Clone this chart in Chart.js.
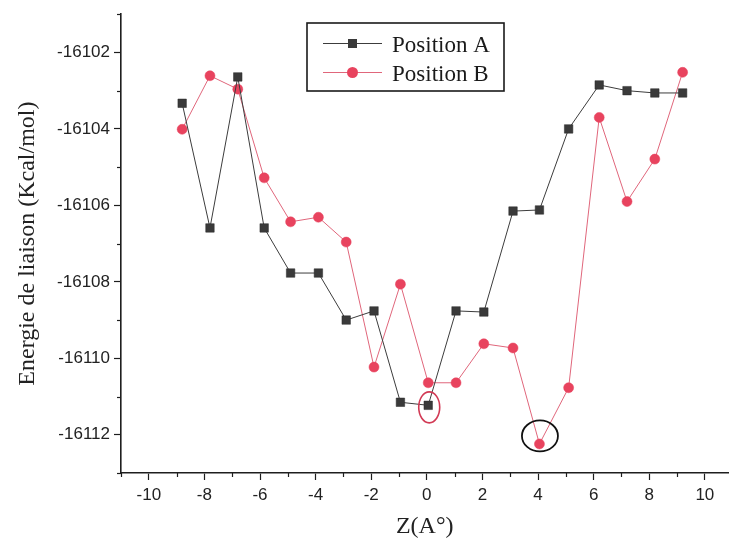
<!DOCTYPE html>
<html>
<head>
<meta charset="utf-8">
<script src="https://cdn.jsdelivr.net/npm/chart.js@4/dist/chart.umd.min.js"></script>
<style>
html,body{margin:0;padding:0;background:#fff;}
canvas{display:block;}
</style>
</head>
<body>
<canvas id="c" width="735" height="546"></canvas>
<script>
// ---- data ----
const zValues = [-8.8, -7.8, -6.8, -5.85, -4.9, -3.9, -2.9, -1.9, -0.95, 0.05, 1.05, 2.05, 3.1, 4.05, 5.1, 6.2, 7.2, 8.2, 9.2];
const positionA = [-16103.33, -16106.59, -16102.64, -16106.59, -16107.77, -16107.77, -16109.00, -16108.76, -16111.15, -16111.23, -16108.76, -16108.79, -16106.15, -16106.12, -16104.00, -16102.85, -16103.00, -16103.06, -16103.06];
const positionB = [-16104.01, -16102.61, -16102.96, -16105.28, -16106.43, -16106.31, -16106.96, -16110.23, -16108.06, -16110.64, -16110.64, -16109.62, -16109.73, -16112.24, -16110.77, -16103.70, -16105.90, -16104.79, -16102.52];
const seriesLabels = ['Position A', 'Position B'];
const xTickValues = [-10, -8, -6, -4, -2, 0, 2, 4, 6, 8, 10];
const yTickValues = [-16112, -16110, -16108, -16106, -16104, -16102];
const xTitle = 'Z(A\u00b0)';
const yTitle = 'Energie de liaison (Kcal/mol)';
// highlighted points (series index, point index)
const highlightA = 9;
const highlightB = 13;

const toXY = (vals) => vals.map((v, i) => ({x: zValues[i], y: v}));

const AXIS = '#1e1e1e';
const SANS = '"Liberation Sans", Arial, sans-serif';
const SERIF = '"Liberation Serif", "Times New Roman", serif';

const minorTicks = {
  id: 'minorTicks',
  afterDraw(chart) {
    const ctx = chart.ctx;
    const xs = chart.scales.x, ys = chart.scales.y;
    ctx.save();
    ctx.strokeStyle = AXIS;
    ctx.lineWidth = 1.2;
    for (let v = Math.ceil(xs.min); v <= xs.max; v++) {
      if (Math.abs(v) % 2 === 1) {
        const px = Math.round(xs.getPixelForValue(v)) + 0.5;
        ctx.beginPath(); ctx.moveTo(px, ys.bottom); ctx.lineTo(px, ys.bottom + 4); ctx.stroke();
      }
    }
    for (let v = Math.ceil(ys.min); v <= ys.max; v++) {
      if (Math.abs(v) % 2 === 1) {
        const py = Math.round(ys.getPixelForValue(v)) + 0.5;
        ctx.beginPath(); ctx.moveTo(xs.left, py); ctx.lineTo(xs.left - 4, py); ctx.stroke();
      }
    }
    ctx.restore();
  }
};

const marks = {
  id: 'marks',
  afterDatasetsDraw(chart) {
    const ctx = chart.ctx;
    const xs = chart.scales.x, ys = chart.scales.y;
    ctx.save();
    // red ellipse around Position A point
    let cx = xs.getPixelForValue(zValues[highlightA]) + 1;
    let cy = ys.getPixelForValue(positionA[highlightA]) + 2;
    ctx.strokeStyle = '#d23a55';
    ctx.lineWidth = 1.6;
    ctx.beginPath(); ctx.ellipse(cx, cy, 10.5, 15.5, 0, 0, Math.PI * 2); ctx.stroke();
    // black ellipse around Position B minimum
    cx = xs.getPixelForValue(zValues[highlightB]) + 0.5;
    cy = ys.getPixelForValue(positionB[highlightB]) - 8;
    ctx.strokeStyle = '#111';
    ctx.lineWidth = 1.8;
    ctx.beginPath(); ctx.ellipse(cx, cy, 18, 15.5, 0, 0, Math.PI * 2); ctx.stroke();
    ctx.restore();
  }
};

const boxLegend = {
  id: 'boxLegend',
  afterDraw(chart) {
    const ctx = chart.ctx;
    const bx = 307, by = 23, bw = 197, bh = 68;
    ctx.save();
    ctx.fillStyle = '#fff';
    ctx.fillRect(bx, by, bw, bh);
    ctx.strokeStyle = '#1a1a1a';
    ctx.lineWidth = 1.6;
    ctx.strokeRect(bx, by, bw, bh);
    const rows = [43.5, 72.5];
    chart.data.datasets.forEach((ds, i) => {
      const y = rows[i];
      ctx.strokeStyle = ds.borderColor;
      ctx.lineWidth = 1;
      ctx.beginPath(); ctx.moveTo(323, y); ctx.lineTo(382, y); ctx.stroke();
      ctx.fillStyle = ds.pointBackgroundColor;
      ctx.strokeStyle = ds.pointBorderColor;
      if (ds.pointStyle === 'rect') {
        ctx.fillRect(348, y - 4.5, 9, 9);
      } else {
        ctx.beginPath(); ctx.arc(352.5, y, 5.5, 0, Math.PI * 2); ctx.fill();
      }
      ctx.fillStyle = '#1a1a1a';
      ctx.font = '23px ' + SERIF;
      ctx.textBaseline = 'alphabetic';
      ctx.textAlign = 'left';
      ctx.fillText(ds.label, 392, y + 8);
    });
    ctx.restore();
  }
};

new Chart(document.getElementById('c'), {
  type: 'scatter',
  data: {
    datasets: [
      {
        label: seriesLabels[0],
        data: toXY(positionA),
        showLine: true,
        borderColor: '#3c3c3c',
        borderWidth: 1,
        pointStyle: 'rect',
        pointRadius: 6,
        pointBackgroundColor: '#3a3a3a',
        pointBorderColor: '#2a2a2a',
        pointBorderWidth: 0.5,
        order: 1
      },
      {
        label: seriesLabels[1],
        data: toXY(positionB),
        showLine: true,
        borderColor: '#e0667b',
        borderWidth: 1,
        pointStyle: 'circle',
        pointRadius: 5,
        pointBackgroundColor: '#e8435e',
        pointBorderColor: '#e8435e',
        pointBorderWidth: 0.5,
        order: 2
      }
    ]
  },
  options: {
    responsive: false,
    animation: false,
    devicePixelRatio: 1,
    layout: {padding: {top: 14, right: 0, left: 0, bottom: 0}},
    plugins: {legend: {display: false}, tooltip: {enabled: false}},
    scales: {
      x: {
        type: 'linear',
        min: -11,
        max: 10.85,
        afterBuildTicks: (s) => { s.ticks = xTickValues.map(v => ({value: v})); },
        afterFit: (s) => { s.height = 73; },
        grid: {drawOnChartArea: false, drawTicks: true, tickLength: 7, tickColor: AXIS, tickWidth: 1.2},
        border: {display: true, color: AXIS, width: 1.6},
        ticks: {color: '#222', font: {family: SANS, size: 17}, padding: 5, maxRotation: 0, autoSkip: false},
        title: {display: true, text: xTitle, color: '#222', font: {family: SERIF, size: 24}, padding: {top: 0, bottom: 5}}
      },
      y: {
        type: 'linear',
        min: -16113,
        max: -16101,
        afterBuildTicks: (s) => { s.ticks = yTickValues.map(v => ({value: v})); },
        afterFit: (s) => { s.width = 121; },
        grid: {drawOnChartArea: false, drawTicks: true, tickLength: 7, tickColor: AXIS, tickWidth: 1.2},
        border: {display: true, color: AXIS, width: 1.6},
        ticks: {color: '#222', font: {family: SANS, size: 17}, padding: 4, autoSkip: false,
                callback: (v) => String(v)},
        title: {display: true, text: yTitle, color: '#222', font: {family: SERIF, size: 24}, padding: {top: 13, bottom: 0}}
      }
    }
  },
  plugins: [minorTicks, marks, boxLegend]
});
</script>
</body>
</html>
